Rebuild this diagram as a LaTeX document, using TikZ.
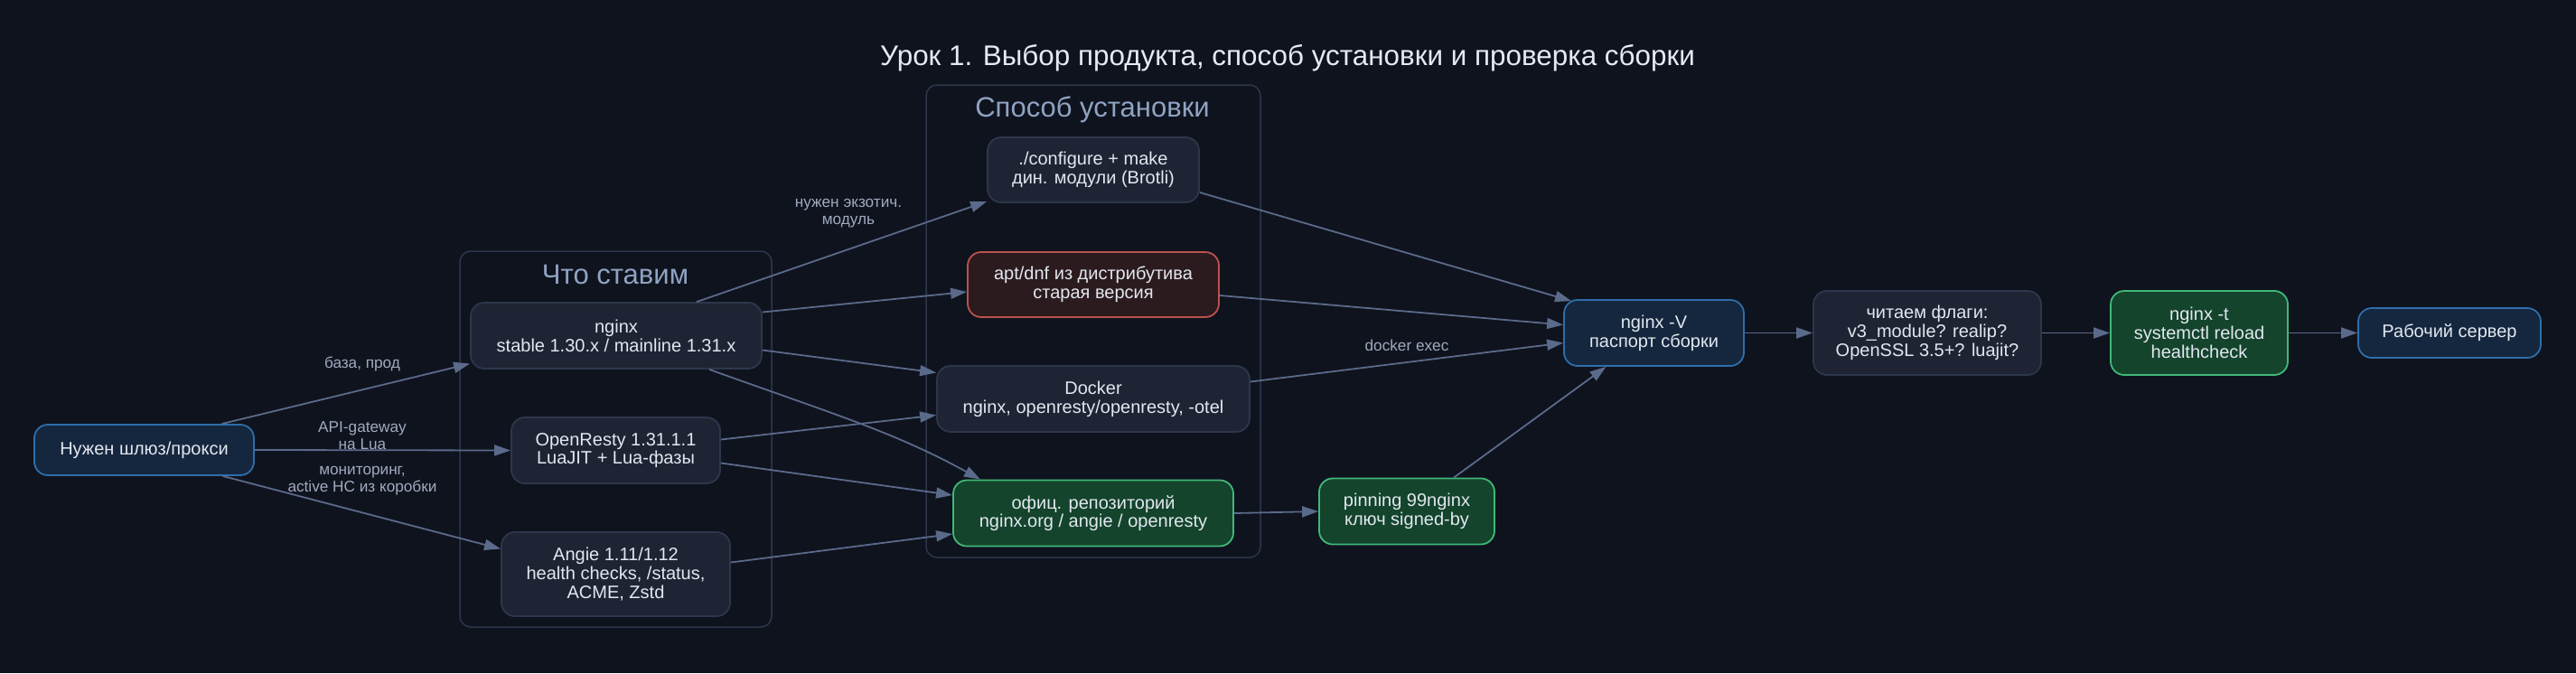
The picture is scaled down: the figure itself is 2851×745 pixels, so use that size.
\documentclass[tikz,border=0pt]{standalone}
\usepackage{fontspec}
\setmainfont{Liberation Sans}
\usetikzlibrary{arrows.meta}
\definecolor{bg}{HTML}{0F131E}
\definecolor{nodefill}{HTML}{1E2433}
\definecolor{nodeborder}{HTML}{2D374B}
\definecolor{bluefill}{HTML}{15273E}
\definecolor{blueborder}{HTML}{2E6EAA}
\definecolor{greenfill}{HTML}{14442C}
\definecolor{greenborder}{HTML}{40B878}
\definecolor{redfill}{HTML}{2C1B1E}
\definecolor{redborder}{HTML}{BA524E}
\definecolor{clusterborder}{HTML}{2D364A}
\definecolor{clusterlabel}{HTML}{8FA3C2}
\definecolor{edgecol}{HTML}{5A6A8A}
\definecolor{elabelcol}{HTML}{A0AABE}
\definecolor{nodetext}{HTML}{E2E8F0}
\definecolor{titlecol}{HTML}{E6E9F0}
\tikzset{
  box/.style={draw=nodeborder, fill=nodefill, rounded corners=15pt, line width=1.8pt,
    align=center, text=nodetext, font=\fontsize{20}{20.7}\selectfont, inner sep=0pt},
  bluebox/.style={box, draw=blueborder, fill=bluefill},
  greenbox/.style={box, draw=greenborder, fill=greenfill},
  redbox/.style={box, draw=redborder, fill=redfill},
  clusterbox/.style={draw=clusterborder, rounded corners=12pt, line width=1.5pt},
  clabel/.style={text=clusterlabel, font=\fontsize{31}{32}\selectfont},
  conn/.style={draw=edgecol, line width=1.8pt, -{Triangle[length=18pt,width=12pt]}},
  elabel/.style={text=elabelcol, font=\fontsize{17.2}{19}\selectfont, align=center, inner sep=0pt},
}
\begin{document}
\begin{tikzpicture}[x=1pt,y=-1pt]
\useasboundingbox (0,0) rectangle (2851,745);
\fill[bg] (0,0) rectangle (2851,745);

% title
\node[text=titlecol, font=\fontsize{31.4}{32}\selectfont] (title) at (1425,64) {Урок 1. Выбор продукта, способ установки и проверка сборки};

% clusters
\draw[clusterbox] (509,278) rectangle (854,694);
\node[clabel] (cl1) at (681,304) {Что ставим};
\draw[clusterbox] (1025,94) rectangle (1395,617);
\node[clabel] (cl2) at (1209,121) {Способ установки};

% nodes
\node[bluebox, minimum width=243pt, minimum height=56pt] (start) at (159.5,498) {Нужен шлюз/прокси};
\node[box, minimum width=322pt, minimum height=73pt] (nginx) at (682,371.5) {nginx\\stable 1.30.x / mainline 1.31.x};
\node[box, minimum width=231pt, minimum height=73pt] (openresty) at (681.5,498.5) {OpenResty 1.31.1.1\\LuaJIT + Lua-фазы};
\node[box, minimum width=253pt, minimum height=93pt] (angie) at (681.5,635.5) {Angie 1.11/1.12\\health checks, /status,\\ACME, Zstd};
\node[box, minimum width=234pt, minimum height=72pt] (configure) at (1210,188) {./configure + make\\дин. модули (Brotli)};
\node[redbox, minimum width=278pt, minimum height=72pt] (apt) at (1210,315) {apt/dnf из дистрибутива\\старая версия};
\node[box, minimum width=346pt, minimum height=73pt] (docker) at (1210,441.5) {Docker\\nginx, openresty/openresty, -otel};
\node[greenbox, minimum width=310pt, minimum height=73pt] (ofic) at (1210,568) {офиц. репозиторий\\nginx.org / angie / openresty};
\node[greenbox, minimum width=194pt, minimum height=73pt] (pinning) at (1557,566) {pinning 99nginx\\ключ signed-by};
\node[bluebox, minimum width=199pt, minimum height=73pt] (nginxV) at (1830.5,368.5) {nginx -V\\паспорт сборки};
\node[box, minimum width=252pt, minimum height=93pt] (read) at (2133,368.5) {читаем флаги:\\v3\_module? realip?\\OpenSSL 3.5+? luajit?};
\node[greenbox, minimum width=196pt, minimum height=93pt] (nginxT) at (2434,368.5) {nginx -t\\systemctl reload\\healthcheck};
\node[bluebox, minimum width=202pt, minimum height=55pt] (server) at (2711,368.5) {Рабочий сервер};

% edges
\draw[conn] ([xshift=86pt]start.north) -- ([yshift=-31pt]nginx.west);
\draw[conn] (start.east) -- (openresty.west);
\draw[conn] ([xshift=87pt]start.south) -- ([yshift=28pt]angie.west);
\draw[conn] ([xshift=89pt]nginx.north) -- ([yshift=-35pt]configure.west);
\draw[conn] ([yshift=26pt]nginx.east) -- ([yshift=-8pt]apt.west);
\draw[conn] ([yshift=-16pt]nginx.east) -- ([yshift=29pt]docker.west);
\draw[conn] ([xshift=103pt]nginx.south) .. controls +(145,52) and +(-95,-52) .. ([xshift=-125pt]ofic.north);
\draw[conn] ([yshift=12pt]openresty.east) -- ([yshift=-18pt]docker.west);
\draw[conn] ([yshift=-14pt]openresty.east) -- ([yshift=20pt]ofic.west);
\draw[conn] ([yshift=13pt]angie.east) -- ([yshift=-23pt]ofic.west);
\draw[conn] ([yshift=-25pt]configure.east) -- ([xshift=9pt,yshift=-2pt]nginxV.north west);
\draw[conn] ([yshift=-12pt]apt.east) -- ([yshift=9pt]nginxV.west);
\draw[conn] ([yshift=19pt]docker.east) -- ([yshift=-11pt]nginxV.west);
\draw[conn] (ofic.east) -- (pinning.west);
\draw[conn] ([xshift=52pt]pinning.north) -- ([xshift=-53pt]nginxV.south);
\draw[conn] (nginxV.east) -- (read.west);
\draw[conn] (read.east) -- (nginxT.west);
\draw[conn] (nginxT.east) -- (server.west);

% edge labels
\node[elabel] (l1) at (401,403) {база, прод};
\node[elabel] (l2) at (401,482) {API-gateway\\на Lua};
\node[elabel] (l3) at (401,532) {мониторинг,\\active HC из коробки};
\node[elabel] (l4) at (939,236) {нужен экзотич.\\модуль};
\node[elabel] (l5) at (1557,382) {docker exec};
\end{tikzpicture}
\end{document}
